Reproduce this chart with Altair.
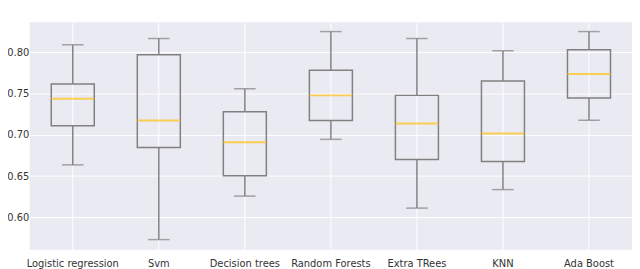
import altair as alt
import pandas as pd

models = ["Logistic regression", "Svm", "Decision trees", "Random Forests",
          "Extra TRees", "KNN", "Ada Boost"]
whisk_low = [0.6635, 0.5731, 0.6257, 0.6944, 0.6112, 0.6336, 0.7175]
q1 = [0.7108, 0.6844, 0.6504, 0.7171, 0.6700, 0.6676, 0.7445]
median = [0.7436, 0.7171, 0.6908, 0.7476, 0.7135, 0.7016, 0.7736]
q3 = [0.7613, 0.7968, 0.7277, 0.7780, 0.7476, 0.7649, 0.8028]
whisk_high = [0.8088, 0.8164, 0.7556, 0.8248, 0.8164, 0.8016, 0.8248]

df = pd.DataFrame({"model": models, "low": whisk_low, "q1": q1,
                   "med": median, "q3": q3, "high": whisk_high})

W, H = 609, 230
band = W / len(models)
edge = "#808080"

x = alt.X("model:N", sort=models,
          scale=alt.Scale(type="band", paddingInner=0, paddingOuter=0),
          axis=alt.Axis(title=None, labelAngle=0, grid=True, gridColor="white",
                        gridWidth=1, bandPosition=0.5, domain=False, ticks=False,
                        labelFontSize=10, labelPadding=9, labelColor="#333333",
                        labelFont="DejaVu Sans"))
yscale = alt.Scale(domain=[0.5608, 0.836], nice=False, zero=False)
yaxis = alt.Axis(title=None, values=[0.60, 0.65, 0.70, 0.75, 0.80], format=".2f",
                 grid=True, gridColor="white", gridWidth=1, domain=False, ticks=False,
                 labelFontSize=10, labelPadding=1, labelColor="#333333",
                 labelFont="DejaVu Sans")

base = alt.Chart(df)

lower = base.mark_rule(color=edge, strokeWidth=1.5).encode(
    x=x, y=alt.Y("low:Q", scale=yscale, axis=yaxis), y2="q1:Q")
upper = base.mark_rule(color=edge, strokeWidth=1.5).encode(
    x=x, y=alt.Y("q3:Q", scale=yscale), y2="high:Q")
box = base.mark_bar(fillOpacity=0, stroke=edge, strokeWidth=1.5,
                    width=alt.RelativeBandSize(0.5)).encode(
    x=x, y=alt.Y("q1:Q", scale=yscale), y2="q3:Q")
med = base.mark_tick(color="#FFC20E", size=band * 0.5, thickness=2).encode(
    x=x, y=alt.Y("med:Q", scale=yscale))
cap_lo = base.mark_tick(color=edge, size=band * 0.25, thickness=1.5).encode(
    x=x, y=alt.Y("low:Q", scale=yscale))
cap_hi = base.mark_tick(color=edge, size=band * 0.25, thickness=1.5).encode(
    x=x, y=alt.Y("high:Q", scale=yscale))

chart = alt.layer(lower, upper, box, med, cap_lo, cap_hi).properties(
    width=W, height=H,
    autosize=alt.AutoSizeParams(type="none"),
    padding={"left": 22, "top": 13, "right": 0, "bottom": 20},
).configure_view(fill="#EAEAF2", stroke=None)

chart.save("out.html", embed_options={"renderer": "svg", "actions": False})
